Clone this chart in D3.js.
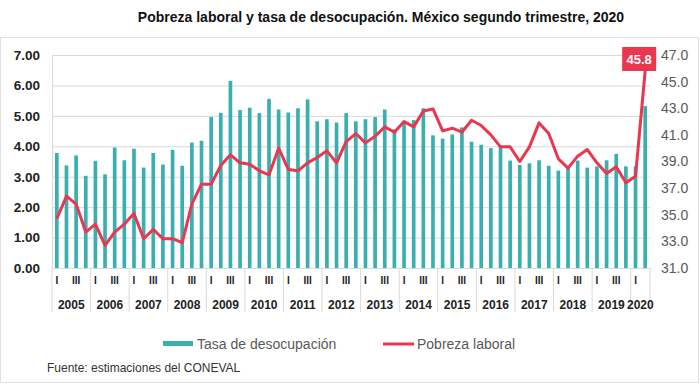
<!DOCTYPE html>
<html>
<head>
<meta charset="utf-8">
<script src="https://cdn.jsdelivr.net/npm/d3@7"></script>
<style>
  body { margin: 0; background: #fff; }
  svg { display: block; font-family: "Liberation Sans", Arial, sans-serif; }
</style>
</head>
<body>
<svg id="chart" width="700" height="385"></svg>
<script>
// años y trimestres del eje x
let years = [2005, 2006, 2007, 2008, 2009, 2010, 2011, 2012, 2013, 2014, 2015, 2016, 2017, 2018, 2019, 2020];
let trimestres = ["I", "II", "III", "IV"];
let trimestresShown = ["I", "III"];

// tasa de desocupación (%), eje izquierdo
let tasa = [
  3.78, 3.37, 3.70, 3.03, 3.52, 3.08, 3.96, 3.54, 3.92, 3.30,
  3.78, 3.40, 3.88, 3.36, 4.12, 4.18, 4.96, 5.10, 6.15, 5.19,
  5.27, 5.09, 5.56, 5.21, 5.11, 5.25, 5.54, 4.82, 4.89, 4.78,
  5.09, 4.82, 4.89, 4.96, 5.21, 4.56, 4.75, 4.86, 5.25, 4.36,
  4.25, 4.39, 4.62, 4.15, 4.05, 3.94, 4.02, 3.53, 3.39, 3.44,
  3.54, 3.36, 3.20, 3.29, 3.53, 3.30, 3.34, 3.54, 3.75, 3.34,
  3.34, 5.32
];

// pobreza laboral (%), eje derecho
let pobreza = [
  34.7, 36.4, 35.8, 33.7, 34.3, 32.7, 33.7, 34.3, 35.1, 33.2,
  33.9, 33.2, 33.2, 32.9, 35.8, 37.3, 37.3, 38.7, 39.5, 38.9,
  38.8, 38.3, 38.0, 40.0, 38.4, 38.3, 38.9, 39.3, 39.8, 38.9,
  40.5, 41.1, 40.4, 40.9, 41.6, 41.2, 42.0, 41.6, 42.8, 42.95,
  41.3, 41.5, 41.2, 42.1, 41.7, 41.0, 40.1, 40.1, 39.0, 40.1,
  41.9, 41.1, 39.2, 38.5, 39.4, 39.9, 38.9, 38.1, 38.6, 37.4,
  37.9, 45.8
];

let leftTicks = [0, 1, 2, 3, 4, 5, 6, 7];
let rightTicks = [31, 33, 35, 37, 39, 41, 43, 45, 47];

// lista de trimestres: 2020 solo tiene I y II
let quarters = [];
years.forEach(y => {
  let n = y === 2020 ? 2 : 4;
  for (let q = 0; q < n; q++) quarters.push({ year: y, q: trimestres[q], key: y + "-" + trimestres[q] });
});
let data = quarters.map((d, i) => ({ ...d, tasa: tasa[i], pobreza: pobreza[i] }));

let width = 700;
let height = 385;
let margin = ({ top: 55, right: 50, bottom: 117, left: 52 });
let teal = "#3aafb0";
let red = "#e8374f";
let grid = "#d9d9d9";

let svg = d3.select("#chart");

// marco
svg.append("rect").attr("x", 0.5).attr("y", 37.5).attr("width", 698).attr("height", 345)
  .attr("fill", "none").attr("stroke", "#e0e0e0");

svg.append("text").attr("x", 381).attr("y", 22).attr("text-anchor", "middle")
  .attr("font-size", 14).attr("font-weight", "bold").attr("fill", "#111")
  .text("Pobreza laboral y tasa de desocupación. México segundo trimestre, 2020");

let x = d3.scaleBand().domain(data.map(d => d.key))
  .range([margin.left, width - margin.right]).paddingInner(0.62).paddingOuter(0.31);
let yL = d3.scaleLinear().domain([0, 7]).range([height - margin.bottom, margin.top]);
let yR = d3.scaleLinear().domain([31, 47]).range([height - margin.bottom, margin.top]);
let cx = k => x(k) + x.bandwidth() / 2;

// eje izquierdo con líneas de cuadrícula
let yAxis = g => g.attr("transform", `translate(${margin.left},0)`)
  .call(d3.axisLeft(yL).tickValues(leftTicks).tickFormat(d3.format(".2f"))
    .tickSize(-(width - margin.left - margin.right)).tickPadding(12))
  .call(g => g.select(".domain").attr("stroke", grid))
  .call(g => g.selectAll(".tick line").attr("stroke", grid))
  .call(g => g.selectAll(".tick text").attr("font-size", 13.5).attr("font-weight", "bold")
    .attr("fill", "#222").attr("font-family", "Liberation Sans, Arial, sans-serif"));
svg.append("g").call(yAxis);

let yAxisR = g => g.attr("transform", `translate(${width - margin.right},0)`)
  .call(d3.axisRight(yR).tickValues(rightTicks).tickFormat(d3.format(".1f")).tickSize(0).tickPadding(11))
  .call(g => g.select(".domain").remove())
  .call(g => g.selectAll(".tick text").attr("font-size", 14).attr("fill", "#595959")
    .attr("font-family", "Liberation Sans, Arial, sans-serif"));
svg.append("g").call(yAxisR);

// barras
svg.append("g").selectAll("rect").data(data).join("rect")
  .attr("x", d => x(d.key)).attr("width", x.bandwidth())
  .attr("y", d => yL(d.tasa)).attr("height", d => yL(0) - yL(d.tasa))
  .attr("fill", teal);

// eje x: trimestres, años y separadores
let base = height - margin.bottom;
let xAxis = g => g.attr("transform", `translate(0,${base})`)
  .call(d3.axisBottom(x).tickSize(0).tickPadding(9)
    .tickFormat(k => { let q = k.split("-")[1]; return trimestresShown.includes(q) ? q : ""; }))
  .call(g => g.select(".domain").remove())
  .call(g => g.selectAll(".tick text").attr("font-size", 10).attr("font-weight", "bold")
    .attr("fill", "#222").attr("font-family", "Liberation Sans, Arial, sans-serif"));
svg.append("g").call(xAxis);

let step = x.step();
let yearSpan = years.map(y => {
  let ks = data.filter(d => d.year === y);
  let x0 = x(ks[0].key) - x.step() * x.paddingInner() / 2;
  return { year: y, x0: x0, x1: x0 + ks.length * step };
});
let gy = svg.append("g");
gy.selectAll("line").data([yearSpan[0].x0].concat(yearSpan.map(d => d.x1))).join("line")
  .attr("x1", d => d).attr("x2", d => d).attr("y1", base).attr("y2", base + 44)
  .attr("stroke", grid);
gy.selectAll("text").data(yearSpan).join("text")
  .attr("x", d => (d.x0 + d.x1) / 2).attr("y", base + 41).attr("text-anchor", "middle")
  .attr("font-size", 12).attr("font-weight", "bold").attr("fill", "#222")
  .text(d => d.year);

// línea de pobreza laboral
let line = d3.line().x(d => cx(d.key)).y(d => yR(d.pobreza));
svg.append("path").datum(data).attr("d", line)
  .attr("fill", "none").attr("stroke", red).attr("stroke-width", 3).attr("stroke-linejoin", "round");

// etiqueta del último valor
let last = data[data.length - 1];
let lg = svg.append("g").attr("transform", `translate(${cx(last.key) - 6},${yR(last.pobreza) - 12})`);
lg.append("rect").attr("x", -17).attr("y", -12).attr("width", 34).attr("height", 24).attr("fill", red);
lg.append("text").attr("text-anchor", "middle").attr("dy", "0.35em")
  .attr("font-size", 13).attr("font-weight", "bold").attr("fill", "#fff")
  .text(d3.format(".1f")(last.pobreza));

// leyenda
let legend = svg.append("g").attr("font-size", 14).attr("fill", "#595959");
legend.append("rect").attr("x", 163).attr("y", 341).attr("width", 30).attr("height", 5).attr("fill", teal);
legend.append("text").attr("x", 197).attr("y", 348.5).text("Tasa de desocupación");
legend.append("line").attr("x1", 383).attr("x2", 414).attr("y1", 344).attr("y2", 344)
  .attr("stroke", red).attr("stroke-width", 3);
legend.append("text").attr("x", 417).attr("y", 348.5).text("Pobreza laboral");

svg.append("text").attr("x", 47).attr("y", 372).attr("font-size", 12).attr("fill", "#333")
  .text("Fuente: estimaciones del CONEVAL");
</script>
</body>
</html>
